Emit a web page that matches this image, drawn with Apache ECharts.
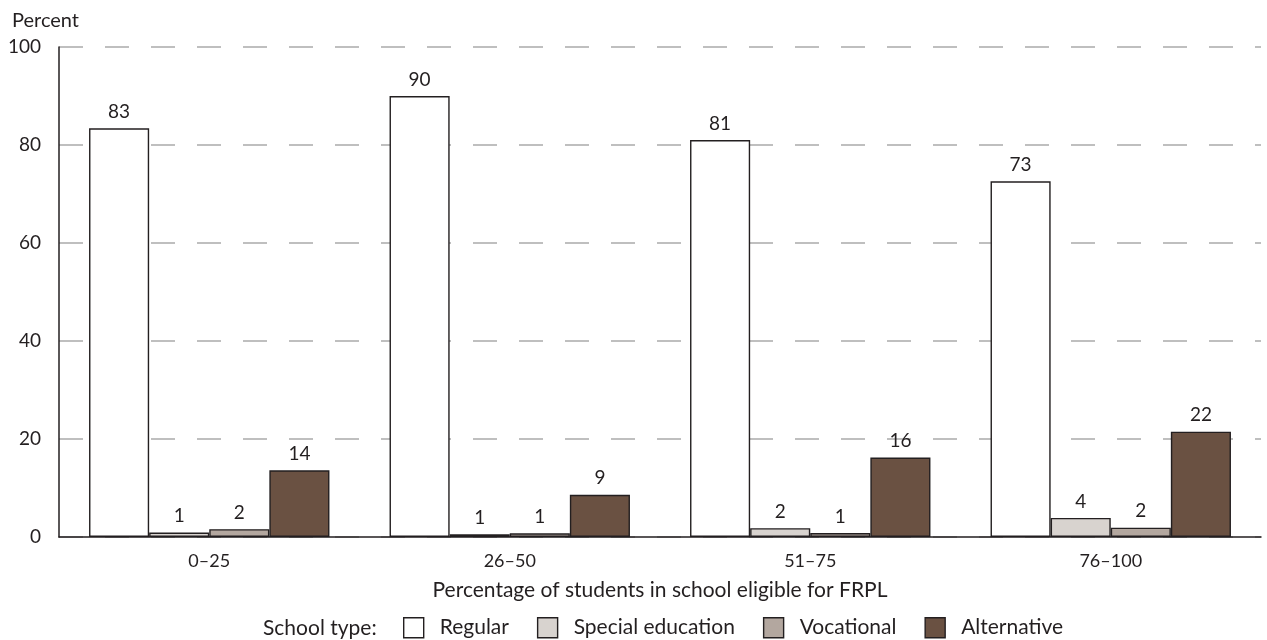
<!DOCTYPE html>
<html>
<head>
<meta charset="utf-8">
<script src="https://cdn.jsdelivr.net/npm/echarts@6/dist/echarts.min.js"></script>
<style>
html,body{margin:0;padding:0;background:#fff;}
#chart{width:1267px;height:640px;}
</style>
</head>
<body>
<div id="chart"></div>
<script>
var categories = ['0–25', '26–50', '51–75', '76–100'];
var regular = [83.4, 90.0, 81.0, 72.6];
var specialEducation = [0.9, 0.55, 1.8, 3.9];
var vocational = [1.6, 0.75, 0.8, 1.9];
var alternative = [13.6, 8.6, 16.2, 21.5];
var yTicks = [0, 20, 40, 60, 80, 100];

var FONT = 'Lato';
var INK = '#231f20';

function barSeries(name, data, color) {
  return {
    name: name,
    type: 'bar',
    data: data,
    barGap: '0%',
    barCategoryGap: '20%',
    itemStyle: { color: color, borderColor: INK, borderWidth: 1.4 },
    label: {
      show: true,
      position: 'top',
      distance: 7,
      fontFamily: FONT,
      fontSize: 19,
      color: INK,
      formatter: function (p) { return Math.round(p.value); }
    }
  };
}

var chart = echarts.init(document.getElementById('chart'), null, { renderer: 'canvas' });
chart.setOption({
  animation: false,
  backgroundColor: '#ffffff',
  textStyle: { fontFamily: FONT, color: INK },
  grid: { left: 59, right: 6, top: 47, bottom: 103, containLabel: false },
  graphic: [
    { type: 'text', left: 12, top: 11, style: { text: 'Percent', font: '20px ' + FONT, fill: INK } },
    { type: 'text', left: 263, top: 618, style: { text: 'School type:', font: '21px ' + FONT, fill: INK } }
  ],
  legend: {
    left: 403,
    top: 617,
    padding: 0,
    itemWidth: 20,
    itemHeight: 20,
    itemGap: 28,
    icon: 'rect',
    textStyle: { fontFamily: FONT, fontSize: 21, color: INK, padding: [0, 0, 0, 11] },
    itemStyle: { borderColor: INK, borderWidth: 1.4 },
    data: ['Regular', 'Special education', 'Vocational', 'Alternative']
  },
  xAxis: {
    type: 'category',
    data: categories,
    name: 'Percentage of students in school eligible for FRPL',
    nameLocation: 'middle',
    nameGap: 43,
    nameTextStyle: { fontFamily: FONT, fontSize: 21, color: INK },
    axisLine: { show: true, lineStyle: { color: INK, width: 1.5 } },
    axisTick: { show: false },
    axisLabel: { interval: 0, margin: 15, fontFamily: FONT, fontSize: 18, color: INK },
    z: 10
  },
  yAxis: {
    type: 'value',
    min: yTicks[0],
    max: yTicks[yTicks.length - 1],
    interval: 20,
    axisLine: { show: true, lineStyle: { color: INK, width: 1.5 } },
    axisTick: { show: false },
    axisLabel: { margin: 18, fontFamily: FONT, fontSize: 19, color: INK },
    splitLine: { show: true, lineStyle: { color: '#aaaaaa', width: 1.5, type: [24, 22] } }
  },
  series: [
    barSeries('Regular', regular, '#ffffff'),
    barSeries('Special education', specialEducation, '#d8d3cf'),
    barSeries('Vocational', vocational, '#b3a79f'),
    barSeries('Alternative', alternative, '#6a5142')
  ]
});
</script>
</body>
</html>
